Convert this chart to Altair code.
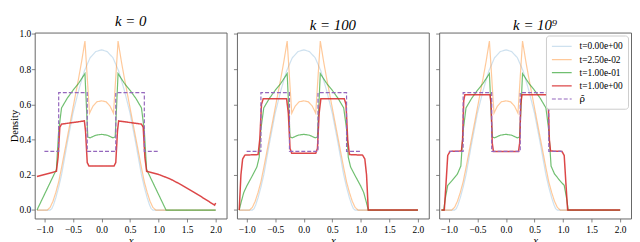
import altair as alt
import pandas as pd

SERIES = ["t=0.00e+00", "t=2.50e-02", "t=1.00e-01", "t=1.00e+00", "ρ̄"]
COLORS = ["rgba(31,119,180,0.22)", "rgba(255,127,14,0.42)", "rgba(44,160,44,0.68)",
          "rgba(214,39,40,0.85)", "#9467bd"]
DASHES = [[1, 0], [1, 0], [1, 0], [1, 0], [4, 2]]
WIDTHS = [1.2, 1.2, 1.2, 1.5, 1.2]
TITLES = ["k = 0", "k = 100", "k = 10⁹"]
X_TICKS = [-1.0, -0.5, 0.0, 0.5, 1.0, 1.5, 2.0]
Y_TICKS = [0.0, 0.2, 0.4, 0.6, 0.8, 1.0]

# t = 0 (same in all panels)
BLUE_X = [-1.13, -0.9, -0.87, -0.84, -0.8, -0.75, -0.7, -0.6, -0.5, -0.4, -0.3, -0.2, -0.1, 0.0,
          0.1, 0.2, 0.3, 0.4, 0.5, 0.6, 0.7, 0.75, 0.8, 0.84, 0.87, 0.9, 2.0]
BLUE_Y = [0.0, 0.0, 0.008, 0.03, 0.07, 0.13, 0.2, 0.38, 0.55, 0.68, 0.79, 0.865, 0.9, 0.91,
          0.9, 0.865, 0.79, 0.68, 0.55, 0.38, 0.2, 0.13, 0.07, 0.03, 0.008, 0.0, 0.0]

# t = 0.025 (same in all panels)
ORANGE_X = [-1.13, -0.95, -0.9, -0.85, -0.8, -0.75, -0.7, -0.6, -0.5, -0.4, -0.35, -0.29,
            -0.21, -0.15, -0.08, 0.0, 0.08, 0.15, 0.21, 0.29, 0.35, 0.4, 0.5, 0.6, 0.7, 0.75,
            0.8, 0.85, 0.9, 0.95, 2.0]
ORANGE_Y = [0.0, 0.0, 0.015, 0.05, 0.1, 0.16, 0.24, 0.41, 0.58, 0.75, 0.84, 0.96,
            0.55, 0.59, 0.615, 0.62, 0.615, 0.59, 0.55, 0.96, 0.84, 0.75, 0.58, 0.41, 0.24, 0.16,
            0.1, 0.05, 0.015, 0.0, 0.0]

# t = 0.1
GREEN0_X = [-1.13, -0.79, -0.75, -0.7, -0.6, -0.5, -0.4, -0.29, -0.24, -0.2, -0.1, 0.0,
            0.1, 0.2, 0.24, 0.29, 0.4, 0.5, 0.6, 0.7, 0.75, 0.79, 1.13, 2.0]
GREEN0_Y = [0.0, 0.23, 0.45, 0.58, 0.635, 0.68, 0.72, 0.775, 0.415, 0.41, 0.425, 0.43,
            0.425, 0.41, 0.415, 0.775, 0.72, 0.68, 0.635, 0.58, 0.45, 0.23, 0.0, 0.0]
GREEN100_X = [-1.13, -1.1, -1.05, -1.0, -0.9, -0.82, -0.78, -0.75, -0.7, -0.6, -0.5, -0.4,
              -0.29, -0.24, -0.2, -0.1, 0.0, 0.1, 0.2, 0.24, 0.29, 0.4, 0.5, 0.6, 0.7, 0.75,
              0.78, 0.82, 0.9, 1.0, 1.05, 1.1, 1.13, 2.0]
GREEN100_Y = [0.0, 0.04, 0.1, 0.135, 0.195, 0.245, 0.3, 0.46, 0.58, 0.635, 0.68, 0.72,
              0.775, 0.415, 0.41, 0.425, 0.43, 0.425, 0.41, 0.415, 0.775, 0.72, 0.68, 0.635,
              0.58, 0.46, 0.3, 0.245, 0.195, 0.135, 0.1, 0.04, 0.0, 0.0]
GREEN1E9_X = [-1.13, -1.09, -1.06, -1.02, -0.95, -0.85, -0.79, -0.75, -0.7, -0.6, -0.5, -0.4,
              -0.29, -0.24, -0.2, -0.1, 0.0, 0.1, 0.2, 0.24, 0.29, 0.4, 0.5, 0.6, 0.7, 0.75,
              0.79, 0.85, 0.95, 1.02, 1.06, 1.09, 2.0]
GREEN1E9_Y = [0.0, 0.0, 0.07, 0.14, 0.165, 0.205, 0.25, 0.45, 0.58, 0.635, 0.68, 0.72,
              0.775, 0.415, 0.41, 0.425, 0.43, 0.425, 0.41, 0.415, 0.775, 0.72, 0.68, 0.635,
              0.58, 0.45, 0.25, 0.205, 0.165, 0.14, 0.07, 0.0, 0.0]

# t = 1
RED0_X = [-1.13, -0.79, -0.76, -0.73, -0.7, -0.5, -0.3, -0.28, -0.25, -0.22, 0.0, 0.22,
          0.25, 0.28, 0.3, 0.5, 0.7, 0.73, 0.76, 0.79, 1.0, 1.2, 1.4, 1.6, 1.8, 1.98, 2.0]
RED0_Y = [0.19, 0.22, 0.3, 0.47, 0.488, 0.497, 0.506, 0.45, 0.27, 0.25, 0.25, 0.25,
          0.27, 0.45, 0.506, 0.497, 0.488, 0.47, 0.3, 0.22, 0.202, 0.177, 0.143, 0.105,
          0.065, 0.028, 0.04]
RED100_X = [-1.13, -1.1, -1.07, -1.03, -0.8, -0.77, -0.74, -0.71, -0.3, -0.27, -0.24, -0.21,
            0.21, 0.24, 0.27, 0.3, 0.71, 0.74, 0.77, 0.8, 1.03, 1.07, 1.1, 1.13, 2.0]
RED100_Y = [0.0, 0.2, 0.29, 0.312, 0.315, 0.4, 0.6, 0.632, 0.632, 0.55, 0.35, 0.322,
            0.322, 0.35, 0.55, 0.632, 0.632, 0.6, 0.4, 0.315, 0.312, 0.29, 0.2, 0.0, 0.0]
RED1E9_X = [-1.13, -1.08, -1.05, -1.02, -0.98, -0.78, -0.76, -0.74, -0.72, -0.28, -0.26,
            -0.24, -0.22, 0.22, 0.24, 0.26, 0.28, 0.72, 0.74, 0.76, 0.78, 0.98, 1.02, 1.05,
            1.08, 2.0]
RED1E9_Y = [0.0, 0.0, 0.15, 0.31, 0.333, 0.335, 0.4, 0.62, 0.655, 0.655, 0.6, 0.38, 0.333,
            0.333, 0.38, 0.6, 0.655, 0.655, 0.62, 0.4, 0.335, 0.333, 0.31, 0.15, 0.0, 0.0]

# target density rho-bar
RHO_X = [-1.0, -0.75, -0.75, -0.25, -0.25, 0.25, 0.25, 0.75, 0.75, 1.0]
RHO_Y = [0.3333, 0.3333, 0.6667, 0.6667, 0.3333, 0.3333, 0.6667, 0.6667, 0.3333, 0.3333]

PANELS = [
    [(BLUE_X, BLUE_Y), (ORANGE_X, ORANGE_Y), (GREEN0_X, GREEN0_Y), (RED0_X, RED0_Y), (RHO_X, RHO_Y)],
    [(BLUE_X, BLUE_Y), (ORANGE_X, ORANGE_Y), (GREEN100_X, GREEN100_Y), (RED100_X, RED100_Y), (RHO_X, RHO_Y)],
    [(BLUE_X, BLUE_Y), (ORANGE_X, ORANGE_Y), (GREEN1E9_X, GREEN1E9_Y), (RED1E9_X, RED1E9_Y), (RHO_X, RHO_Y)],
]

SERIF = "Liberation Serif"


def make_df(curves):
    rows = []
    for name, (xs, ys) in zip(SERIES, curves):
        for i, (x, y) in enumerate(zip(xs, ys)):
            rows.append({"series": name, "x": x, "y": y, "i": i})
    return pd.DataFrame(rows)


def panel(k):
    df = make_df(PANELS[k])
    first = k == 0
    last = k == 2
    leg = alt.Legend(
        orient="top-right", offset=3, fillColor="white", strokeColor="#cccccc",
        cornerRadius=3, padding=5,
        labelFont=alt.ExprRef("datum.label === 'ρ̄' ? 'DejaVu Serif' : 'Liberation Serif'"),
        labelFontSize=9.5, labelColor="black",
        symbolType="M-2,0L2,0", symbolSize=100, symbolOffset=5, labelOffset=12,
        rowPadding=2.3, title=None,
    ) if last else None
    xaxis = alt.Axis(values=X_TICKS, format=".1f", title="x", titleFontStyle="italic",
                     labelPadding=3, titlePadding=0.5)
    yaxis = (alt.Axis(values=Y_TICKS, format=".1f", title="Density", labelPadding=0.5,
                      titlePadding=0, titleFontSize=10.5) if first
             else alt.Axis(values=Y_TICKS, labels=False, title=None))
    return alt.Chart(df).mark_line(clip=True).encode(
        x=alt.X("x:Q", scale=alt.Scale(domain=[-1.17, 2.19], nice=False, zero=False), axis=xaxis),
        y=alt.Y("y:Q", scale=alt.Scale(domain=[-0.048, 1.008], nice=False, zero=False), axis=yaxis),
        color=alt.Color("series:N", scale=alt.Scale(domain=SERIES, range=COLORS), legend=leg),
        strokeDash=alt.StrokeDash("series:N", scale=alt.Scale(domain=SERIES, range=DASHES), legend=leg),
        strokeWidth=alt.StrokeWidth("series:N", scale=alt.Scale(type="ordinal", domain=SERIES, range=WIDTHS), legend=leg),
        detail="series:N",
        order=alt.Order("i:Q"),
    ).properties(
        width=194, height=188,
        title=alt.Title(TITLES[k], font=SERIF, fontSize=15, fontWeight="normal",
                        fontStyle="italic", offset=0, color="black"),
    )


chart = alt.hconcat(panel(0), panel(1), panel(2), spacing=4.5).resolve_scale(
    color="independent", strokeDash="independent", strokeWidth="independent"
).properties(
    padding={"top": 3.5, "left": 0, "right": 0, "bottom": 0}
).configure_view(
    stroke="#666666", strokeWidth=1
).configure_axis(
    labelFont=SERIF, labelFontSize=9.5, labelColor="black", labelPadding=1.5,
    titleFont=SERIF, titleFontSize=11, titleFontWeight="normal", titleColor="black",
    titlePadding=1, tickColor="#666666", tickSize=3.5, tickWidth=0.8, domain=False, grid=False,
)

chart.save("out.html", embed_options={"renderer": "svg", "actions": False})
